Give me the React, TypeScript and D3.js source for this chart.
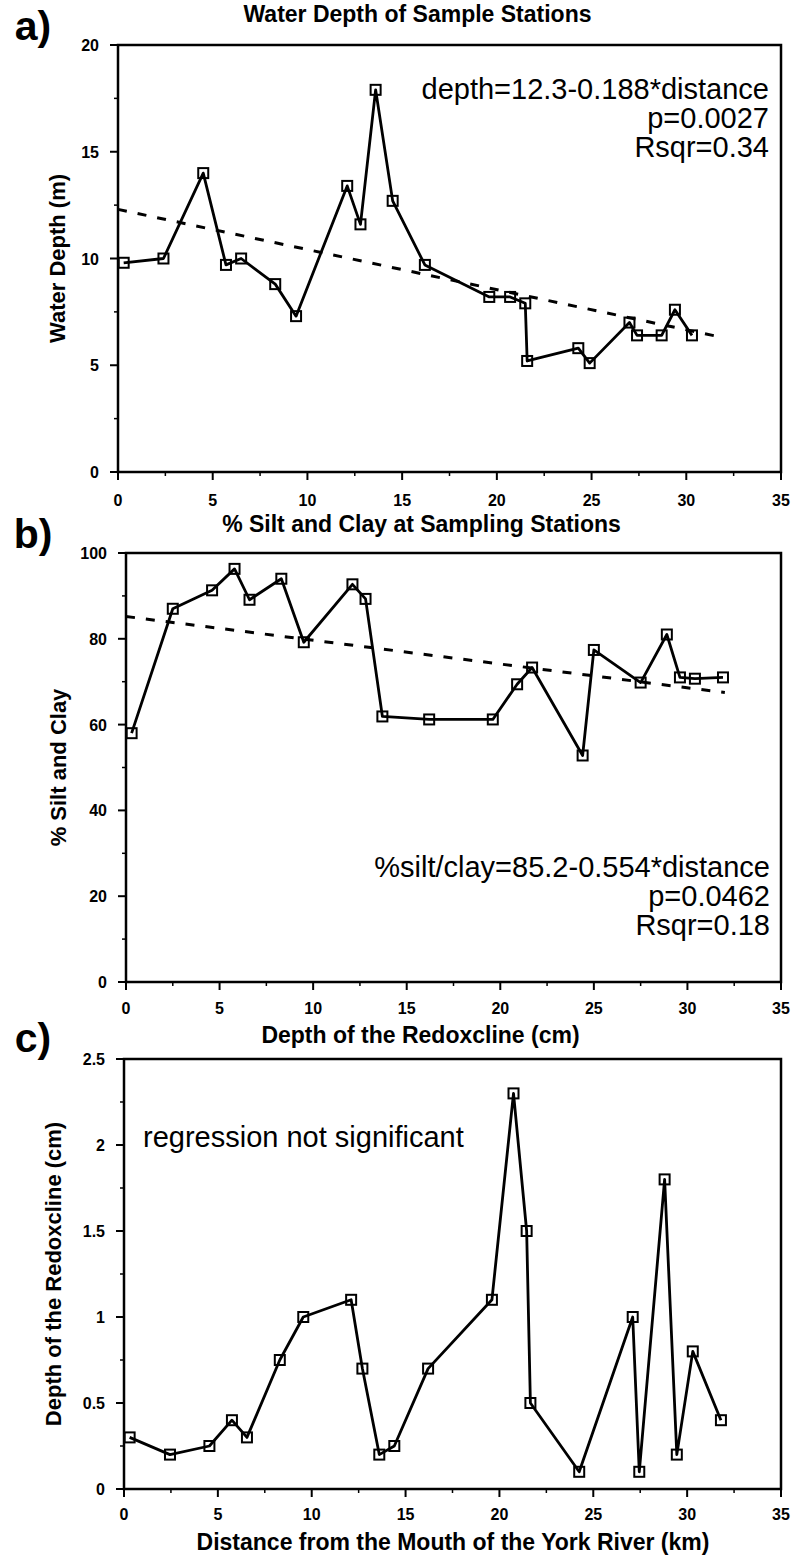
import React from "react";
import * as d3 from "d3";

// ---------- data ----------
const distA = [0.3, 2.4, 4.5, 5.7, 6.5, 8.3, 9.4, 12.1, 12.8, 13.6, 14.5, 16.2, 19.6, 20.7, 21.5, 21.6, 24.3, 24.9, 27.0, 27.4, 28.7, 29.4, 30.3];
const waterDepth = [9.8, 10.0, 14.0, 9.7, 10.0, 8.8, 7.3, 13.4, 11.6, 17.9, 12.7, 9.7, 8.2, 8.2, 7.9, 5.2, 5.8, 5.1, 7.0, 6.4, 6.4, 7.6, 6.4];

const distB = [0.3, 2.5, 4.6, 5.8, 6.6, 8.3, 9.5, 12.1, 12.8, 13.7, 16.2, 19.6, 20.9, 21.7, 24.4, 25.0, 27.5, 28.9, 29.6, 30.4, 31.9];
const siltClay = [58, 87, 91.3, 96.3, 89.1, 94, 79.2, 92.7, 89.3, 61.9, 61.2, 61.2, 69.4, 73.3, 52.8, 77.4, 69.8, 81, 71, 70.7, 71];

const distC = [0.3, 2.45, 4.55, 5.75, 6.55, 8.3, 9.55, 12.1, 12.7, 13.6, 14.4, 16.2, 19.6, 20.75, 21.45, 21.65, 24.25, 27.1, 27.45, 28.8, 29.45, 30.3, 31.8];
const redox = [0.3, 0.2, 0.25, 0.4, 0.3, 0.75, 1.0, 1.1, 0.7, 0.2, 0.25, 0.7, 1.1, 2.3, 1.5, 0.5, 0.1, 1.0, 0.1, 1.8, 0.2, 0.8, 0.4];

const xTicks = [0, 5, 10, 15, 20, 25, 30, 35];
const yTicksA = [0, 5, 10, 15, 20];
const yTicksB = [0, 20, 40, 60, 80, 100];
const yTicksC = [0, 0.5, 1, 1.5, 2, 2.5];
const yTickLabelsC = ["0", "0.5", "1", "1.5", "2", "2.5"];

const regA = [12.3, -0.188];
const regB = [85.2, -0.554];
const regRange = [0, 32];

const titles = ["Water Depth of Sample Stations", "% Silt and Clay at Sampling Stations", "Depth of the Redoxcline (cm)"];
const yTitles = ["Water Depth (m)", "% Silt and Clay", "Depth of the Redoxcline (cm)"];
const panelTags = ["a)", "b)", "c)"];
const notesA = ["depth=12.3-0.188*distance", "p=0.0027", "Rsqr=0.34"];
const notesB = ["%silt/clay=85.2-0.554*distance", "p=0.0462", "Rsqr=0.18"];
const notesC = ["regression not significant"];
const xTitle = "Distance from the Mouth of the York River (km)";

const FONT = "'Liberation Sans', Arial, Helvetica, sans-serif";

function Panel({ box, xs, ys, yDomain, yTicks, yLabels, yMinor, reg, title, yTitle, tag, tagY, titleY, yTitleX, notes, notesRight, notesTop, notesAnchor, xLabelsY }) {
  const { left, right, top, bottom } = box;
  const x = d3.scaleLinear().domain([0, 35]).range([left, right]);
  const y = d3.scaleLinear().domain(yDomain).range([bottom, top]);
  const line = d3.line().x((d) => x(d[0])).y((d) => y(d[1]));
  const pts = xs.map((v, i) => [v, ys[i]]);
  const xMinor = d3.range(2.5, 35, 5);
  const yMinorTicks = d3.range(yDomain[0] + yMinor, yDomain[1], yMinor * 2);
  const regPts = reg ? regRange.map((v) => [v, reg[0] + reg[1] * v]) : null;
  const sq = 10;
  return (
    <g>
      <text x={33} y={tagY} fontFamily={FONT} fontWeight="bold" fontSize={41} textAnchor="middle">{tag}</text>
      <text x={(left + right) / 2 - 32} y={titleY} fontFamily={FONT} fontWeight="bold" fontSize={23} textAnchor="middle">{title}</text>
      <text transform={`translate(${yTitleX},${(top + bottom) / 2}) rotate(-90)`} fontFamily={FONT} fontWeight="bold" fontSize={22} textAnchor="middle">{yTitle}</text>
      {xTicks.map((t) => (
        <g key={"xt" + t}>
          <line x1={x(t)} x2={x(t)} y1={bottom} y2={bottom + 8} stroke="#000" strokeWidth={2} />
          <text x={x(t)} y={xLabelsY} fontFamily={FONT} fontWeight="bold" fontSize={16} textAnchor="middle">{t}</text>
        </g>
      ))}
      {xMinor.map((t) => (
        <line key={"xm" + t} x1={x(t)} x2={x(t)} y1={bottom} y2={bottom + 4} stroke="#000" strokeWidth={1.5} />
      ))}
      {yTicks.map((t, i) => (
        <g key={"yt" + t}>
          <line x1={left - 8} x2={left} y1={y(t)} y2={y(t)} stroke="#000" strokeWidth={2} />
          <text x={left - 19} y={y(t) + 6} fontFamily={FONT} fontWeight="bold" fontSize={16} textAnchor="end">{yLabels[i]}</text>
        </g>
      ))}
      {yMinorTicks.map((t) => (
        <line key={"ym" + t} x1={left - 4} x2={left} y1={y(t)} y2={y(t)} stroke="#000" strokeWidth={1.5} />
      ))}
      <rect x={left} y={top} width={right - left} height={bottom - top} fill="none" stroke="#000" strokeWidth={2.5} />
      {regPts && (
        <path d={line(regPts)} fill="none" stroke="#000" strokeWidth={3} strokeDasharray="9 11" />
      )}
      <path d={line(pts)} fill="none" stroke="#000" strokeWidth={2.8} strokeLinejoin="round" />
      {pts.map((p, i) => (
        <rect key={"p" + i} x={x(p[0]) - sq / 2} y={y(p[1]) - sq / 2} width={sq} height={sq} fill="none" stroke="#000" strokeWidth={2} />
      ))}
      {notes.map((n, i) => (
        <text key={"n" + i} x={notesRight} y={notesTop + i * 29} fontFamily={FONT} fontSize={29} textAnchor={notesAnchor}>{n}</text>
      ))}
    </g>
  );
}

export default function App() {
  return (
    <svg width={798} height={1558} style={{ position: "absolute", left: 0, top: 0, background: "#fff" }}>
      <rect x={0} y={0} width={798} height={1558} fill="#fff" />
      <Panel
        box={{ left: 118, right: 781, top: 45, bottom: 472 }}
        xs={distA} ys={waterDepth} yDomain={[0, 20]} yTicks={yTicksA} yLabels={yTicksA.map(String)} yMinor={2.5}
        reg={regA} title={titles[0]} yTitle={yTitles[0]} tag={panelTags[0]} tagY={40} titleY={22} yTitleX={65}
        notes={notesA} notesRight={769} notesTop={99} notesAnchor="end" xLabelsY={506}
      />
      <Panel
        box={{ left: 126, right: 781, top: 553, bottom: 982 }}
        xs={distB} ys={siltClay} yDomain={[0, 100]} yTicks={yTicksB} yLabels={yTicksB.map(String)} yMinor={10}
        reg={regB} title={titles[1]} yTitle={yTitles[1]} tag={panelTags[1]} tagY={548} titleY={532} yTitleX={66}
        notes={notesB} notesRight={770} notesTop={877} notesAnchor="end" xLabelsY={1014}
      />
      <Panel
        box={{ left: 124, right: 781, top: 1059, bottom: 1489 }}
        xs={distC} ys={redox} yDomain={[0, 2.5]} yTicks={yTicksC} yLabels={yTickLabelsC} yMinor={0.25}
        reg={null} title={titles[2]} yTitle={yTitles[2]} tag={panelTags[2]} tagY={1052} titleY={1043} yTitleX={61}
        notes={notesC} notesRight={143} notesTop={1147} notesAnchor="start" xLabelsY={1520}
      />
      <text x={453} y={1550} fontFamily={FONT} fontWeight="bold" fontSize={23} textAnchor="middle">{xTitle}</text>
    </svg>
  );
}
